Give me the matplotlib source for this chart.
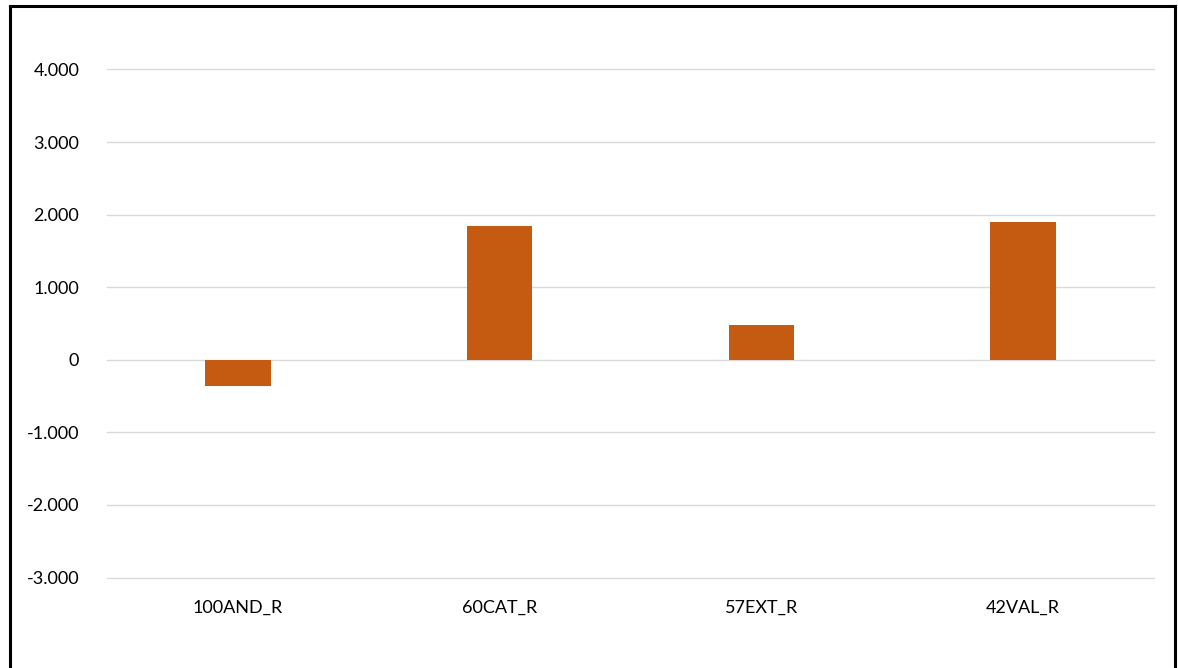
import matplotlib
matplotlib.use("Agg")
import matplotlib.pyplot as plt
from matplotlib.lines import Line2D
from matplotlib.ticker import FuncFormatter

categories = ["100AND_R", "60CAT_R", "57EXT_R", "42VAL_R"]
values = [-365, 1846, 482, 1900]
yticks = [-3000, -2000, -1000, 0, 1000, 2000, 3000, 4000]

plt.rcParams['font.family'] = ['Lato', 'DejaVu Sans']

W, H = 1178, 668
fig = plt.figure(figsize=(W / 100, H / 100), dpi=100)
ax = fig.add_axes([107 / W, 1 - 577.5 / H, (1154 - 107) / W, (577.5 - 69.5) / H])

x = list(range(len(categories)))
ax.bar(x, values, width=0.25, color="#C55A11", zorder=3)
ax.set_xlim(-0.5, len(categories) - 0.5)
ax.set_ylim(-3000, 4000)
ax.set_yticks(yticks)
ax.yaxis.set_major_formatter(FuncFormatter(lambda v, p: f"{int(v):,}".replace(",", ".")))
ax.set_xticks(x)
ax.set_xticklabels(categories)
ax.grid(axis="y", color="#D9D9D9", linewidth=1, zorder=0)
for gl in ax.get_ygridlines():
    gl.set_clip_on(False)
for s in ax.spines.values():
    s.set_visible(False)
ax.tick_params(axis="both", length=0, labelsize=13, colors="#000000")
ax.tick_params(axis="y", pad=20)
ax.tick_params(axis="x", pad=16)

# border
lw = 2.2
fig.add_artist(Line2D([9.5 / W, 9.5 / W], [0, 1 - 6 / H], transform=fig.transFigure, color="black", linewidth=lw))
fig.add_artist(Line2D([9.5 / W, 1174.5 / W], [1 - 6 / H, 1 - 6 / H], transform=fig.transFigure, color="black", linewidth=lw))
fig.add_artist(Line2D([1174.5 / W, 1174.5 / W], [0, 1 - 6 / H], transform=fig.transFigure, color="black", linewidth=lw))

fig.savefig("out.png", dpi=100, facecolor="white")
